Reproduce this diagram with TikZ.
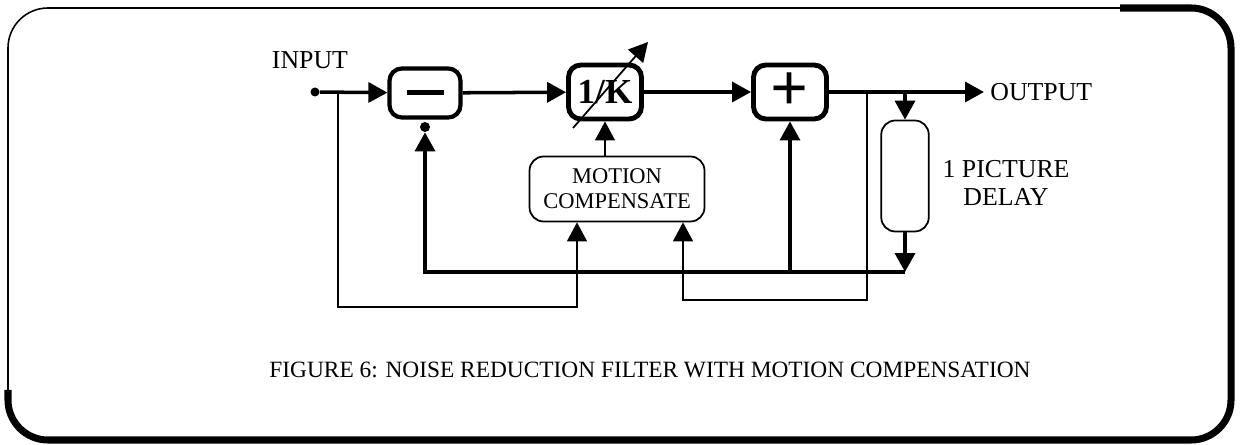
\documentclass[tikz,border=0pt]{standalone}
\usepackage{fontspec}
\setmainfont{Liberation Serif}
\usetikzlibrary{arrows.meta,positioning,calc}

\begin{document}
\begin{tikzpicture}[
  x=0.02cm, y=-0.02cm,
  >={Triangle[length=0.38cm,width=0.4cm]},
  sumbox/.style={
    draw,
    line width=2.4pt,
    rounded corners=7pt,
    minimum width=1.42cm,
    minimum height=0.98cm,
    inner sep=0pt
  },
  gainbox/.style={
    sumbox,
    line width=2.8pt,
    minimum width=1.46cm,
    minimum height=1.08cm
  },
  procbox/.style={
    draw,
    line width=1pt,
    rounded corners=8pt,
    align=center,
    inner sep=0pt
  },
  dot/.style={circle, fill, inner sep=0pt, minimum size=0.18cm},
  lbl/.style={font=\fontsize{14.7}{15.5}\selectfont, inner sep=0pt, align=center},
  bus/.style={line width=2pt},
  fine/.style={line width=0.75pt}
]
  \useasboundingbox (0,0) rectangle (1243,445);

  % Frame
  \draw[line width=0.9pt, rounded corners=0.8cm] (8,8) rectangle (1231,440);
  \draw[line width=4pt, rounded corners=0.8cm] (1120,8) -- (1231,8) -- (1231,440) -- (8,440) -- (8,390);

  % Forward path
  \node[dot] (indot) at (315,92) {};
  \node[lbl] (inlbl) at (310,60) {INPUT};
  \node[sumbox] (sub) at (425,93) {\rule{0.74cm}{0.1cm}};
  \node[dot, minimum size=0.2cm] (subdot) at (425,127) {};
  \node[gainbox] (gain) at (605,92) {\fontsize{20}{20}\selectfont\bfseries 1/K};
  \node[gainbox] (add) at (790,92) {\fontsize{38}{38}\selectfont\bfseries\raisebox{-0.1cm}{+}};
  \node[lbl, anchor=west] (outlbl) at (990,92) {OUTPUT};

  % Processing blocks
  \node[procbox, minimum width=3.5cm, minimum height=1.3cm, font=\fontsize{12.8}{14.2}\selectfont] (mc) at (617,189) {MOTION\\COMPENSATE};
  \node[procbox, minimum width=0.95cm, minimum height=2.22cm] (delay) at (905,176) {};
  \node[lbl] (dlbl) at (1006,183) {1 PICTURE\\DELAY};

  % Branch points
  \coordinate (inbr) at (338,92);
  \coordinate (outend) at (984,92);
  \coordinate (mcbr) at (867,92);
  \coordinate (dlbr) at (905,92);
  \coordinate (fbend) at (905,272);
  \coordinate (mcinA) at (577,307);
  \coordinate (mcinB) at (683,300);
  \coordinate (kfrom) at (573,128);
  \coordinate (kto) at (648,42);

  \draw[bus, ->] (indot) -- (sub);
  \draw[bus, ->] (sub) -- (gain);
  \draw[bus, ->] (gain) -- (add);
  \draw[bus, ->] (add) -- (outend);
  \draw[bus, ->] (dlbr) -- (delay);
  \draw[bus, ->] (delay) -- (fbend);
  \draw[bus, ->] (fbend) -| (subdot);
  \draw[bus, ->] (fbend -| add) -- (add);

  \draw[fine, ->] (inbr) |- (mcinA) -- (mcinA |- mc.south);
  \draw[fine, ->] (mcbr) |- (mcinB) -- (mcinB |- mc.south);
  \draw[fine, ->] (mc.north -| gain) -- (gain);
  \draw[line width=1pt, ->] (kfrom) -- (kto);

  % Caption
  \node[font=\fontsize{13.3}{14}\selectfont] (caption) at (650,370) {FIGURE 6: NOISE REDUCTION FILTER WITH MOTION COMPENSATION};

\end{tikzpicture}
\end{document}
